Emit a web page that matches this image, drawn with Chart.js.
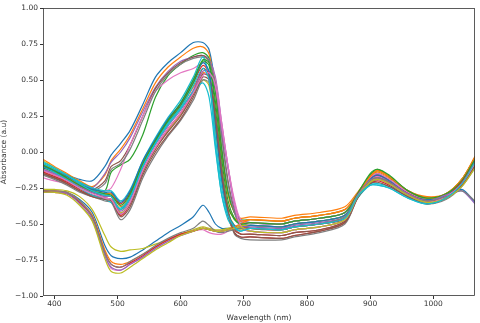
<!DOCTYPE html>
<html>
<head>
<meta charset="utf-8">
<script src="https://cdn.jsdelivr.net/npm/chart.js@4"></script>
<style>
  html, body { margin: 0; padding: 0; background: #fff; }
  #wrap { width: 480px; height: 323px; }
</style>
</head>
<body>
<div id="wrap"><canvas id="myChart"></canvas></div>
<script>
// wavelengths (nm) where each spectrum was read
const wavelengths = [382, 400, 420, 440, 460, 480, 490, 505, 520, 540, 560, 580, 600, 620, 635, 645, 655, 665, 675, 685, 695,
                     710, 760, 780, 820, 860, 880, 900, 912, 930, 960, 990, 1020, 1045, 1066];

const xTicks = [400, 500, 600, 700, 800, 900, 1000];
const yTicks = [-1, -0.75, -0.5, -0.25, 0, 0.25, 0.5, 0.75, 1];

// one array per spectrum
const s0  = [-0.10,-0.13,-0.16,-0.19,-0.20,-0.10,-0.02,0.06,0.15,0.33,0.52,0.62,0.69,0.76,0.76,0.71,0.45,0.02,-0.28,-0.42,-0.47, -0.49,-0.50,-0.48,-0.46,-0.42,-0.29,-0.18,-0.15,-0.19,-0.28,-0.33,-0.30,-0.20,-0.05];
const s1  = [-0.05,-0.10,-0.15,-0.20,-0.24,-0.16,-0.06,0.02,0.12,0.30,0.48,0.59,0.66,0.72,0.73,0.68,0.42,0.00,-0.30,-0.42,-0.46, -0.45,-0.46,-0.44,-0.42,-0.38,-0.28,-0.17,-0.14,-0.18,-0.27,-0.31,-0.29,-0.19,-0.03];
const s2  = [-0.08,-0.12,-0.16,-0.21,-0.25,-0.27,-0.14,-0.09,-0.05,0.12,0.38,0.53,0.61,0.67,0.69,0.65,0.42,0.02,-0.28,-0.42,-0.47, -0.47,-0.48,-0.46,-0.44,-0.40,-0.29,-0.17,-0.13,-0.17,-0.27,-0.32,-0.29,-0.19,-0.04];
const s3  = [-0.13,-0.16,-0.20,-0.25,-0.28,-0.29,-0.29,-0.36,-0.28,-0.07,0.08,0.22,0.33,0.48,0.60,0.55,0.20,-0.18,-0.42,-0.53,-0.57, -0.57,-0.58,-0.56,-0.54,-0.48,-0.31,-0.22,-0.20,-0.23,-0.31,-0.35,-0.32,-0.23,-0.09];
const s4  = [-0.12,-0.15,-0.18,-0.22,-0.25,-0.15,-0.07,0.00,0.10,0.28,0.45,0.56,0.63,0.66,0.67,0.64,0.52,0.20,-0.10,-0.35,-0.48, -0.51,-0.52,-0.50,-0.48,-0.44,-0.30,-0.19,-0.16,-0.20,-0.29,-0.33,-0.30,-0.21,-0.06];
const s5  = [-0.14,-0.17,-0.20,-0.23,-0.26,-0.20,-0.10,-0.06,0.05,0.25,0.44,0.55,0.62,0.66,0.67,0.63,0.48,0.12,-0.20,-0.40,-0.50, -0.53,-0.54,-0.52,-0.50,-0.46,-0.30,-0.20,-0.18,-0.21,-0.29,-0.34,-0.31,-0.21,-0.07];
const s6  = [-0.18,-0.20,-0.22,-0.25,-0.28,-0.27,-0.25,-0.12,0.05,0.25,0.42,0.50,0.55,0.58,0.62,0.62,0.50,0.20,-0.10,-0.33,-0.47, -0.49,-0.50,-0.48,-0.46,-0.42,-0.29,-0.18,-0.15,-0.19,-0.28,-0.33,-0.30,-0.20,-0.05];
const s7  = [-0.16,-0.18,-0.21,-0.24,-0.27,-0.22,-0.12,-0.08,0.02,0.22,0.42,0.54,0.61,0.65,0.66,0.63,0.47,0.10,-0.22,-0.42,-0.52, -0.55,-0.56,-0.54,-0.52,-0.47,-0.31,-0.21,-0.19,-0.22,-0.30,-0.35,-0.31,-0.22,-0.08];
const s8  = [-0.06,-0.11,-0.17,-0.23,-0.28,-0.31,-0.31,-0.42,-0.35,-0.14,0.02,0.15,0.26,0.40,0.50,0.46,0.15,-0.20,-0.42,-0.51,-0.54, -0.53,-0.54,-0.52,-0.50,-0.46,-0.30,-0.20,-0.18,-0.21,-0.29,-0.34,-0.31,-0.21,-0.07];
const s9  = [-0.08,-0.12,-0.16,-0.21,-0.25,-0.27,-0.27,-0.34,-0.26,-0.06,0.10,0.24,0.36,0.52,0.66,0.50,0.05,-0.30,-0.45,-0.52,-0.53, -0.51,-0.52,-0.50,-0.48,-0.44,-0.31,-0.22,-0.22,-0.24,-0.31,-0.35,-0.32,-0.21,-0.06];
const s10 = [-0.26,-0.27,-0.28,-0.33,-0.42,-0.65,-0.72,-0.74,-0.73,-0.68,-0.62,-0.56,-0.51,-0.45,-0.37,-0.42,-0.50,-0.53,-0.53,-0.53,-0.52, -0.51,-0.52,-0.50,-0.48,-0.44,-0.30,-0.19,-0.17,-0.20,-0.29,-0.33,-0.30,-0.26,-0.35];
const s11 = [-0.09,-0.13,-0.18,-0.23,-0.27,-0.29,-0.29,-0.38,-0.30,-0.08,0.07,0.20,0.31,0.45,0.55,0.52,0.22,-0.15,-0.38,-0.46,-0.48, -0.47,-0.48,-0.46,-0.44,-0.40,-0.29,-0.17,-0.13,-0.17,-0.27,-0.32,-0.29,-0.19,-0.04];
const s12 = [-0.11,-0.14,-0.19,-0.24,-0.28,-0.30,-0.31,-0.40,-0.31,-0.09,0.07,0.21,0.32,0.48,0.63,0.60,0.30,-0.12,-0.38,-0.47,-0.50, -0.49,-0.50,-0.48,-0.46,-0.42,-0.29,-0.16,-0.12,-0.17,-0.27,-0.33,-0.30,-0.20,-0.05];
const s13 = [-0.14,-0.17,-0.21,-0.26,-0.30,-0.32,-0.33,-0.44,-0.36,-0.13,0.03,0.16,0.27,0.42,0.58,0.54,0.22,-0.18,-0.44,-0.56,-0.59, -0.59,-0.60,-0.58,-0.55,-0.49,-0.32,-0.19,-0.16,-0.20,-0.30,-0.35,-0.32,-0.22,-0.08];
const s14 = [-0.12,-0.15,-0.19,-0.24,-0.28,-0.31,-0.31,-0.41,-0.33,-0.11,0.05,0.18,0.29,0.43,0.56,0.56,0.45,0.15,-0.12,-0.38,-0.52, -0.55,-0.56,-0.54,-0.52,-0.47,-0.31,-0.19,-0.17,-0.21,-0.30,-0.35,-0.31,-0.22,-0.08];
const s15 = [-0.15,-0.18,-0.22,-0.27,-0.30,-0.32,-0.33,-0.43,-0.36,-0.14,0.02,0.14,0.25,0.40,0.54,0.52,0.25,-0.12,-0.40,-0.54,-0.57, -0.57,-0.58,-0.56,-0.54,-0.48,-0.31,-0.21,-0.19,-0.22,-0.31,-0.35,-0.32,-0.23,-0.09];
const s16 = [-0.27,-0.27,-0.29,-0.35,-0.46,-0.72,-0.81,-0.82,-0.78,-0.73,-0.67,-0.62,-0.58,-0.55,-0.54,-0.56,-0.57,-0.57,-0.55,-0.52,-0.50, -0.49,-0.50,-0.48,-0.46,-0.42,-0.29,-0.19,-0.17,-0.20,-0.28,-0.33,-0.30,-0.20,-0.05];
const s17 = [-0.16,-0.19,-0.23,-0.28,-0.31,-0.34,-0.35,-0.47,-0.40,-0.18,-0.02,0.11,0.22,0.36,0.50,0.48,0.24,-0.12,-0.42,-0.57,-0.60, -0.61,-0.61,-0.59,-0.56,-0.50,-0.32,-0.21,-0.19,-0.22,-0.31,-0.36,-0.33,-0.24,-0.11];
const s18 = [-0.26,-0.26,-0.27,-0.31,-0.40,-0.58,-0.66,-0.69,-0.68,-0.67,-0.64,-0.61,-0.57,-0.54,-0.52,-0.53,-0.54,-0.54,-0.53,-0.52,-0.51, -0.51,-0.52,-0.50,-0.48,-0.44,-0.30,-0.20,-0.18,-0.21,-0.29,-0.33,-0.30,-0.21,-0.07];
const s19 = [-0.10,-0.14,-0.19,-0.25,-0.30,-0.33,-0.35,-0.39,-0.31,-0.10,0.06,0.19,0.30,0.42,0.48,0.38,0.02,-0.30,-0.47,-0.53,-0.55, -0.53,-0.54,-0.52,-0.50,-0.46,-0.32,-0.23,-0.23,-0.25,-0.32,-0.36,-0.32,-0.22,-0.07];
const s20 = [-0.10,-0.13,-0.17,-0.22,-0.26,-0.28,-0.28,-0.35,-0.27,-0.06,0.09,0.23,0.34,0.50,0.62,0.56,0.18,-0.20,-0.43,-0.51,-0.53, -0.51,-0.52,-0.50,-0.48,-0.44,-0.30,-0.19,-0.16,-0.20,-0.29,-0.33,-0.30,-0.21,-0.06];
const s21 = [-0.27,-0.27,-0.28,-0.34,-0.44,-0.68,-0.76,-0.78,-0.76,-0.71,-0.66,-0.61,-0.57,-0.55,-0.53,-0.54,-0.55,-0.55,-0.54,-0.52,-0.50, -0.47,-0.48,-0.46,-0.44,-0.40,-0.29,-0.17,-0.13,-0.17,-0.27,-0.32,-0.29,-0.19,-0.04];
const s22 = [-0.09,-0.13,-0.18,-0.23,-0.27,-0.29,-0.30,-0.37,-0.29,-0.08,0.08,0.22,0.34,0.50,0.64,0.62,0.35,-0.05,-0.34,-0.46,-0.50, -0.49,-0.50,-0.48,-0.46,-0.42,-0.29,-0.15,-0.12,-0.16,-0.27,-0.32,-0.29,-0.20,-0.05];
const s23 = [-0.27,-0.28,-0.29,-0.35,-0.45,-0.70,-0.78,-0.80,-0.77,-0.72,-0.66,-0.61,-0.57,-0.55,-0.53,-0.54,-0.55,-0.55,-0.54,-0.53,-0.52, -0.53,-0.54,-0.52,-0.50,-0.46,-0.30,-0.20,-0.18,-0.21,-0.29,-0.34,-0.31,-0.21,-0.07];
const s24 = [-0.28,-0.28,-0.29,-0.36,-0.47,-0.72,-0.80,-0.82,-0.78,-0.73,-0.67,-0.62,-0.58,-0.55,-0.53,-0.54,-0.55,-0.55,-0.54,-0.53,-0.52, -0.52,-0.53,-0.51,-0.49,-0.45,-0.30,-0.20,-0.18,-0.21,-0.29,-0.34,-0.30,-0.27,-0.36];
const s25 = [-0.15,-0.18,-0.22,-0.27,-0.31,-0.33,-0.34,-0.45,-0.38,-0.16,0.00,0.12,0.23,0.38,0.52,0.50,0.24,-0.14,-0.42,-0.56,-0.59, -0.59,-0.60,-0.58,-0.55,-0.49,-0.32,-0.22,-0.21,-0.24,-0.31,-0.36,-0.32,-0.23,-0.10];
const s26 = [-0.13,-0.16,-0.20,-0.25,-0.29,-0.32,-0.33,-0.43,-0.35,-0.13,0.03,0.16,0.27,0.41,0.53,0.55,0.46,0.18,-0.10,-0.36,-0.51, -0.55,-0.56,-0.54,-0.52,-0.47,-0.31,-0.20,-0.19,-0.22,-0.30,-0.35,-0.31,-0.22,-0.08];
const s27 = [-0.27,-0.27,-0.28,-0.34,-0.45,-0.70,-0.78,-0.80,-0.76,-0.71,-0.65,-0.60,-0.56,-0.53,-0.48,-0.51,-0.55,-0.56,-0.55,-0.54,-0.53, -0.53,-0.54,-0.52,-0.50,-0.45,-0.31,-0.20,-0.18,-0.21,-0.30,-0.34,-0.31,-0.27,-0.34];
const s28 = [-0.28,-0.28,-0.30,-0.37,-0.48,-0.74,-0.83,-0.84,-0.80,-0.74,-0.68,-0.63,-0.58,-0.55,-0.53,-0.54,-0.55,-0.55,-0.54,-0.53,-0.52, -0.55,-0.56,-0.54,-0.52,-0.47,-0.31,-0.21,-0.19,-0.22,-0.30,-0.35,-0.32,-0.24,-0.11];
const s29 = [-0.07,-0.11,-0.16,-0.22,-0.27,-0.30,-0.31,-0.40,-0.32,-0.10,0.06,0.20,0.31,0.46,0.58,0.50,0.10,-0.25,-0.44,-0.52,-0.55, -0.53,-0.54,-0.52,-0.50,-0.46,-0.31,-0.23,-0.23,-0.25,-0.32,-0.36,-0.32,-0.22,-0.07];

const spectra = [s0, s1, s2, s3, s4, s5, s6, s7, s8, s9, s10, s11, s12, s13, s14,
                 s15, s16, s17, s18, s19, s20, s21, s22, s23, s24, s25, s26, s27, s28, s29];

// matplotlib default colour cycle
const tab10 = ['#1f77b4', '#ff7f0e', '#2ca02c', '#d62728', '#9467bd',
               '#8c564b', '#e377c2', '#7f7f7f', '#bcbd22', '#17becf'];

const datasets = spectra.map((vals, i) => ({
  label: 'spectrum ' + (i + 1),
  data: vals.map((v, j) => ({ x: wavelengths[j], y: v })),
  borderColor: tab10[i % 10],
  backgroundColor: tab10[i % 10],
  borderWidth: 1.2,
  pointRadius: 0,
  tension: 0.3,
  order: spectra.length - i
}));

// box around the plot area, like matplotlib spines
const frame = {
  id: 'frame',
  afterDraw(chart) {
    const a = chart.chartArea, c = chart.ctx;
    c.save();
    c.strokeStyle = '#333';
    c.lineWidth = 0.8;
    c.strokeRect(a.left + 0.5, a.top + 0.5, a.right - a.left - 1, a.bottom - a.top - 1);
    c.restore();
  }
};

const tickFont = { family: 'DejaVu Sans', size: 7.5 };

new Chart(document.getElementById('myChart'), {
  type: 'line',
  data: { datasets },
  options: {
    responsive: true,
    maintainAspectRatio: false,
    animation: false,
    layout: { padding: { left: 0, right: 5, top: 8, bottom: 0 } },
    plugins: { legend: { display: false }, tooltip: { enabled: false } },
    scales: {
      x: {
        type: 'linear',
        min: 382,
        max: 1066,
        afterFit(scale) { scale.height = 27; },
        afterBuildTicks(scale) { scale.ticks = xTicks.map(v => ({ value: v })); },
        ticks: { color: '#333', font: tickFont, padding: 1, maxRotation: 0, callback: v => String(v) },
        grid: { display: true, drawOnChartArea: false, drawTicks: true, tickLength: 3, color: '#333' },
        border: { display: false },
        title: { display: true, text: 'Wavelength (nm)', color: '#333', font: tickFont, padding: 0 }
      },
      y: {
        min: -1,
        max: 1,
        afterFit(scale) { scale.width = 43; },
        afterBuildTicks(scale) { scale.ticks = yTicks.map(v => ({ value: v })); },
        ticks: {
          color: '#333', font: tickFont, padding: 2,
          callback: v => v.toFixed(2).replace('-', '\u2212')
        },
        grid: { display: true, drawOnChartArea: false, drawTicks: true, tickLength: 3, color: '#333' },
        border: { display: false },
        title: { display: true, text: 'Absorbance (a.u)', color: '#333', font: tickFont, padding: 0 }
      }
    }
  },
  plugins: [frame]
});
</script>
</body>
</html>
